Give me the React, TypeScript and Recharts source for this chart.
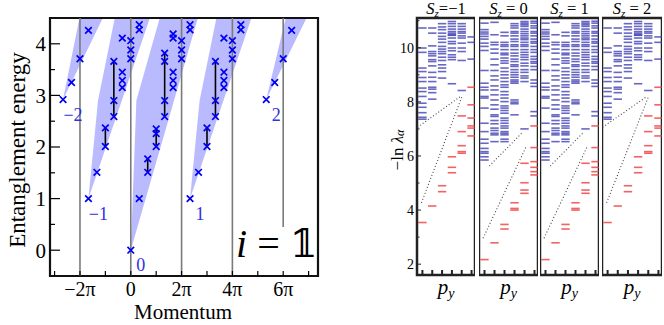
import React from "react";
import {
  ComposedChart,
  XAxis,
  YAxis,
  Area,
  Scatter,
  ReferenceLine,
  ReferenceArea,
} from "recharts";

const SERIF = '"Liberation Serif", "DejaVu Serif", serif';
const t = 1 / 3;

// ---------- left panel: entanglement energy vs momentum (momentum in units of pi) ----------
const momentumTicks = [-3, -2, -1, 0, 1, 2, 3, 4, 5, 6, 7];
const momentumLabels: Record<number, string> = { "-2": "−2π", 0: "0", 2: "2π", 4: "4π", 6: "6π" };
const energyTicks = [0, 0.5, 1, 1.5, 2, 2.5, 3, 3.5, 4];
const sectorLines = [-2, 0, 2, 4];

const levelsQm2 = [[-8 * t, 2.92], [-7 * t, 3.25], [-2, 3.71], [-5 * t, 4.26]];
const levelsQm1 = [
  [-5 * t, 1.0], [-4 * t, 1.51], [-1, 2.01], [-1, 2.37],
  [-2 * t, 2.59], [-2 * t, 2.9], [-2 * t, 3.66],
  [-t, 3.15], [-t, 3.29], [-t, 3.45], [-t, 4.11],
  [0, 3.71], [0, 3.88], [0, 4.06], [t, 4.27], [t, 4.37],
];
const levelsQ0 = [
  [0, 0], [t, 1.0], [2 * t, 1.51], [2 * t, 1.77],
  [1, 2.01], [1, 2.26], [1, 2.35],
  [4 * t, 2.59], [4 * t, 2.9], [4 * t, 3.66], [4 * t, 3.82],
  [5 * t, 3.15], [5 * t, 3.29], [5 * t, 3.45], [5 * t, 4.11], [5 * t, 4.19],
  [2, 3.71], [2, 3.88], [2, 4.06], [7 * t, 4.27], [7 * t, 4.37],
];
const levelsQ1 = [
  [7 * t, 1.0], [8 * t, 1.51], [3, 2.01], [3, 2.37],
  [10 * t, 2.59], [10 * t, 2.9], [10 * t, 3.66],
  [11 * t, 3.15], [11 * t, 3.29], [11 * t, 3.45], [11 * t, 4.11],
  [4, 3.71], [4, 3.88], [4, 4.06], [13 * t, 4.27], [13 * t, 4.37],
];
const levelsQ2 = [[16 * t, 2.92], [17 * t, 3.25], [6, 3.71], [19 * t, 4.26]];

// vertical bars joining levels [momentum, low, high]
const levelBars = [
  [-1, 2.01, 2.37], [-2 * t, 2.59, 3.66],
  [2 * t, 1.51, 1.77], [1, 2.01, 2.35], [4 * t, 2.59, 3.82],
  [3, 2.01, 2.37], [10 * t, 2.59, 3.66],
];

const charges = [
  { x: -8 * t, y: 2.92, q: "−2" },
  { x: -5 * t, y: 1.0, q: "−1" },
  { x: 0, y: 0, q: "0" },
  { x: 7 * t, y: 1.0, q: "1" },
  { x: 16 * t, y: 2.92, q: "2" },
];

// shaded cones, polygon vertices
const coneQm2 = [[-8 * t, 2.92], [-2.02, 4.5], [-1.1, 4.5]];
const coneQm1 = [[-5 * t, 1.0], [-1.29, 2.9], [-0.63, 4.5], [0.75, 4.5]];
const coneQ0 = [[0, 0], [0.22, 2.9], [1.14, 4.5], [2.64, 4.5]];
const coneQ1 = [[7 * t, 1.0], [2.71, 2.9], [3.37, 4.5], [4.75, 4.5]];
const coneQ2 = [[16 * t, 2.92], [6.1, 4.5], [6.92, 4.5]];

// ---------- right panels: -ln lambda vs p_y ----------
const columns = [0, 1, 2, 3, 4, 5];
// S_z = -1 and S_z = 2
const blueOdd = [
  [10.73, 9.99, 9.83, 9.25, 9.12, 8.9, 8.75, 8.51, 8.38, 8.2, 7.95, 7.8, 7.6, 7.43, 7.36],
  [10.73, 10.54, 10.07, 9.86, 9.78, 9.7, 9.56, 9.49, 9.33, 9.09, 8.91, 8.75, 8.54, 8.47, 8.34, 8.1],
  [10.89, 10.77, 10.67, 10.54, 10.42, 10.32, 10.2, 10.05, 9.95, 9.86, 9.78, 9.65, 9.53, 9.37, 9.25, 9.12, 8.88],
  [10.97, 10.89, 10.79, 10.69, 10.6, 10.54, 10.48, 10.46, 10.36, 10.23, 10.15, 9.99, 9.89, 9.74, 9.65, 9.56, 8.67],
  [10.89, 10.79, 10.69, 10.6, 10.54, 10.44, 10.36, 10.17, 9.99, 9.86, 9.53, 8.42],
  [10.4, 10.2, 9.58],
];
const redOdd = [
  [3.54],
  [4.15],
  [4.68, 4.9],
  [5.38, 5.58, 5.97],
  [6.1, 6.16, 6.38, 6.9, 7.48],
  [6.74, 7.03, 7.11, 7.4, 7.89, 8.54],
];
const guidesOdd = [
  [[-0.5, 7.06], [3.87, 8.2]],
  [[-0.1, 4.27], [4.03, 8.2]],
];
// S_z = 0 and S_z = 1
const blueEven = [
  [10.91, 10.67, 10.58, 10.51, 10.42, 10.32, 10.17, 10.05, 9.9, 9.16, 8.69, 8.54, 8.44, 8.2, 8.14, 7.77, 7.21, 6.9, 6.62, 6.47, 6.28, 6.16, 6.1, 5.97, 5.85],
  [10.94, 10.48, 10.2, 10.11, 9.95, 9.8, 9.58, 9.37, 9.16, 8.96, 8.81, 8.59, 8.44, 8.26, 8.07, 7.89, 7.73, 7.52, 7.46, 7.31, 7.19, 7.03, 6.94, 6.84, 6.78, 6.53],
  [10.57, 10.44, 10.2, 10.11, 10.05, 9.93, 9.8, 9.74, 9.62, 9.52, 9.43, 9.25, 9.12, 9.0, 8.88, 8.75, 8.63, 8.54, 8.38, 8.26, 8.14, 8.01, 7.85, 7.77, 7.68, 7.58, 7.4, 7.31, 7.21, 7.11, 7.03, 6.9, 6.84, 6.78, 6.62, 6.53],
  [10.89, 10.81, 10.73, 10.6, 10.54, 10.44, 10.32, 10.23, 10.11, 10.05, 9.93, 9.8, 9.7, 9.58, 9.49, 9.37, 9.31, 9.19, 9.09, 9.0, 8.91, 8.81, 8.75, 8.69, 8.07, 7.99, 7.93, 7.52],
  [10.97, 10.91, 10.85, 10.79, 10.69, 10.6, 10.52, 10.44, 10.36, 10.3, 10.2, 10.11, 10.05, 9.93, 9.83, 9.74, 9.65, 9.56, 9.43, 9.33, 9.19, 9.09, 8.96, 8.88, 8.75, 7.0],
  [10.98, 10.91, 10.81, 10.73, 10.6, 10.54, 10.44, 10.32, 10.23, 10.17, 10.05, 9.93, 9.83, 9.68, 9.58, 9.49, 9.43, 9.31, 9.19, 8.81, 8.69, 8.57, 7.64, 7.48],
];
const redEven = [
  [2.17],
  [2.79],
  [3.3, 3.47],
  [4.0, 4.06, 4.27],
  [4.62, 4.74, 5.01, 5.73],
  [5.3, 5.42, 5.58, 5.79, 6.31, 7.11],
];
const guidesEven = [
  [[-0.15, 2.96], [4.15, 6.33]],
  [[0.48, 5.63], [3.72, 6.84]],
];

const panels = [
  { sz: "−1", left: 380, axisWidth: 37, plotWidth: 58, blue: blueOdd, red: redOdd, guides: guidesOdd },
  { sz: "0", left: 479, axisWidth: 0, plotWidth: 59, blue: blueEven, red: redEven, guides: guidesEven },
  { sz: "1", left: 540, axisWidth: 0, plotWidth: 59, blue: blueEven, red: redEven, guides: guidesEven },
  { sz: "2", left: 602, axisWidth: 0, plotWidth: 60, blue: blueOdd, red: redOdd, guides: guidesOdd },
];

// ---------- helpers ----------
const toXY = (pts: number[][]) => pts.map(([x, y]) => ({ x, y }));

// convex polygon -> range area rows [low, high]
function coneRows(poly: number[][]) {
  const xs = Array.from(new Set(poly.map((p) => p[0]))).sort((a, b) => a - b);
  return xs.map((x) => {
    const ys: number[] = [];
    for (let i = 0; i < poly.length; i++) {
      const [x1, y1] = poly[i];
      const [x2, y2] = poly[(i + 1) % poly.length];
      if (x1 === x2) {
        if (Math.abs(x - x1) < 1e-9) ys.push(y1, y2);
      } else if (x >= Math.min(x1, x2) - 1e-9 && x <= Math.max(x1, x2) + 1e-9) {
        ys.push(y1 + ((x - x1) * (y2 - y1)) / (x2 - x1));
      }
    }
    return { x, range: [Math.min(...ys), Math.max(...ys)] };
  });
}

const columnPoints = (cols: number[][]) =>
  cols.flatMap((vals, k) => vals.map((v) => ({ x: columns[k], y: v })));

const Cross = (props: any) => {
  const { cx, cy } = props;
  const s = 3.3;
  return (
    <path
      d={`M${cx - s},${cy - s}L${cx + s},${cy + s}M${cx - s},${cy + s}L${cx + s},${cy - s}`}
      stroke="#0000f0"
      strokeWidth={1.7}
      fill="none"
    />
  );
};

const ChargeLabel = (props: any) => {
  const { cx, cy, payload } = props;
  return (
    <text x={cx + 10} y={cy + 21} textAnchor="middle" fill="#3030e0" fontSize={18} fontFamily={SERIF}>
      {payload.q}
    </text>
  );
};

const EnergyTick = (props: any) => {
  const { x, y, payload } = props;
  const v = payload.value;
  const major = Number.isInteger(v);
  return (
    <g>
      <line x1={x} x2={x + (major ? 10 : 5)} y1={y} y2={y} stroke="#000" strokeWidth={1.2} />
      {major && (
        <text x={x - 4} y={y} dy="0.35em" textAnchor="end" fontSize={21} fontFamily={SERIF} fill="#000">
          {v}
        </text>
      )}
    </g>
  );
};

const MomentumTick = (props: any) => {
  const { x, y, payload } = props;
  const lab = momentumLabels[payload.value];
  return (
    <g>
      <line x1={x} x2={x} y1={y} y2={y - 5} stroke="#000" strokeWidth={1.2} />
      {lab && (
        <text x={x} y={y + 20} textAnchor="middle" fontSize={20} fontFamily={SERIF} fill="#000">
          {lab}
        </text>
      )}
    </g>
  );
};

const ColumnTick = (props: any) => {
  const { x, y } = props;
  return <line x1={x} x2={x} y1={y} y2={y - 5} stroke="#222" strokeWidth={2} />;
};

const LevelTick = (props: any) => {
  const { x, y, payload } = props;
  const v = payload.value;
  const major = v % 2 === 0;
  return (
    <g>
      <line x1={x} x2={x + (major ? 4 : 2.5)} y1={y} y2={y} stroke="#222" strokeWidth={1} />
      {major && (
        <text x={x - 3} y={y} dy="0.35em" textAnchor="end" fontSize={14} fontFamily={SERIF} fill="#000">
          {v}
        </text>
      )}
    </g>
  );
};

function EntanglementPanel() {
  const cones = [coneQm2, coneQm1, coneQ0, coneQ1, coneQ2];
  const sectors = [levelsQm2, levelsQm1, levelsQ0, levelsQ1, levelsQ2];
  return (
    <ComposedChart width={330} height={325} margin={{ top: 18, right: 12, bottom: 0, left: 0 }}>
      <XAxis
        type="number"
        dataKey="x"
        domain={[-3.18, 7.37]}
        allowDataOverflow
        ticks={momentumTicks}
        interval={0}
        tickSize={0}
        tickMargin={0}
        tickLine={false}
        axisLine={false}
        tick={<MomentumTick />}
        height={49}
        label={() => (
          <g fontFamily={SERIF}>
            <text x={183} y={319} textAnchor="middle" fontSize={21} fill="#000">
              Momentum
            </text>
            <text x={236} y={257} fontSize={40} fill="#000">
              <tspan fontStyle="italic">i</tspan> = 𝟙
            </text>
          </g>
        )}
      />
      <YAxis
        type="number"
        dataKey="y"
        domain={[-0.5, 4.5]}
        allowDataOverflow
        ticks={energyTicks}
        interval={0}
        tickSize={0}
        tickMargin={0}
        tickLine={false}
        axisLine={false}
        tick={<EnergyTick />}
        width={50}
        label={() => (
          <text
            transform="translate(17,150) rotate(-90)"
            textAnchor="middle"
            dominantBaseline="central"
            fontSize={23}
            fontFamily={SERIF}
            fill="#000"
          >
            Entanglement energy
          </text>
        )}
      />
      {cones.map((c, i) => (
        <Area
          key={`cone${i}`}
          data={coneRows(c)}
          dataKey="range"
          type="linear"
          stroke="none"
          fill="#0000ff"
          fillOpacity={0.27}
          isAnimationActive={false}
        />
      ))}
      {sectorLines.map((k) => (
        <ReferenceLine key={`s${k}`} x={k} stroke="#7a7a7a" strokeWidth={1.6} />
      ))}
      <ReferenceLine
        segment={[{ x: 6, y: 0.45 }, { x: 6, y: 4.5 }]}
        stroke="#7a7a7a"
        strokeWidth={1.6}
      />
      {levelBars.map(([k, lo, hi], i) => (
        <ReferenceLine
          key={`b${i}`}
          segment={[{ x: k, y: lo }, { x: k, y: hi }]}
          stroke="#000"
          strokeWidth={1.6}
        />
      ))}
      {sectors.map((s, i) => (
        <Scatter key={`q${i}`} data={toXY(s)} shape={<Cross />} isAnimationActive={false} />
      ))}
      <Scatter data={charges} shape={<ChargeLabel />} isAnimationActive={false} />
      <ReferenceArea
        x1={-3.18}
        x2={7.37}
        y1={-0.5}
        y2={4.5}
        fill="none"
        stroke="#111"
        strokeWidth={2.2}
      />
    </ComposedChart>
  );
}

function SpectrumPanel({ p }: { p: (typeof panels)[number] }) {
  const blue = columnPoints(p.blue);
  const red = columnPoints(p.red);
  const cx = p.axisWidth + p.plotWidth / 2;
  return (
    <div style={{ position: "absolute", left: p.left, top: 0 }}>
      <ComposedChart
        width={p.axisWidth + p.plotWidth}
        height={325}
        margin={{ top: 18, right: 0, bottom: 0, left: 0 }}
      >
        <XAxis
          type="number"
          dataKey="x"
          domain={[-0.55, 5.35]}
          allowDataOverflow
          ticks={columns}
          interval={0}
          tickSize={0}
          tickMargin={0}
          tickLine={false}
          axisLine={false}
          tick={<ColumnTick />}
          height={50}
          label={() => (
            <g fontFamily={SERIF} fill="#000">
              <text x={cx} y={14} textAnchor="middle" fontSize={16.5}>
                <tspan fontStyle="italic">S</tspan>
                <tspan fontStyle="italic" fontSize={11} dy={3}>z</tspan>
                <tspan dy={-3}>{p.sz === "−1" ? "=−1" : " = " + p.sz}</tspan>
              </text>
              <text x={cx} y={294} textAnchor="middle" fontSize={21}>
                <tspan fontStyle="italic">p</tspan>
                <tspan fontStyle="italic" fontSize={14} dy={4}>y</tspan>
              </text>
            </g>
          )}
        />
        <YAxis
          type="number"
          dataKey="y"
          domain={[1.6, 11.1]}
          allowDataOverflow
          hide={p.axisWidth === 0}
          width={p.axisWidth}
          ticks={[2, 3, 4, 5, 6, 7, 8, 9, 10, 11]}
          interval={0}
          tickSize={0}
          tickMargin={0}
          tickLine={false}
          axisLine={false}
          tick={<LevelTick />}
          label={() => (
            <text
              transform="translate(17,150) rotate(-90)"
              textAnchor="middle"
              dominantBaseline="central"
              fontSize={17}
              fontFamily={SERIF}
              fill="#000"
            >
              −ln <tspan fontStyle="italic">λ</tspan>
              <tspan fontStyle="italic" fontSize={12} dy={3}>α</tspan>
            </text>
          )}
        />
        {p.guides.map((g, i) => (
          <ReferenceLine
            key={`g${i}`}
            segment={[{ x: g[0][0], y: g[0][1] }, { x: g[1][0], y: g[1][1] }]}
            stroke="#444"
            strokeWidth={1.1}
            strokeDasharray="1 2.2"
          />
        ))}
        <Scatter
          data={blue}
          isAnimationActive={false}
          shape={(s: any) => (
            <rect x={s.cx - 4.2} y={s.cy - 0.8} width={8.4} height={1.6} fill="#3535b0" fillOpacity={0.75} />
          )}
        />
        <Scatter
          data={red}
          isAnimationActive={false}
          shape={(s: any) => (
            <rect x={s.cx - 4.2} y={s.cy - 0.8} width={8.4} height={1.6} fill="#ee3030" fillOpacity={0.75} />
          )}
        />
        <ReferenceArea
          x1={-0.55}
          x2={5.35}
          y1={1.6}
          y2={11.1}
          fill="none"
          stroke="#222"
          strokeWidth={2.5}
        />
      </ComposedChart>
    </div>
  );
}

export default function App() {
  return (
    <div style={{ position: "absolute", left: 0, top: 0, width: 664, height: 325, background: "#fff" }}>
      <div style={{ position: "absolute", left: 0, top: 0 }}>
        <EntanglementPanel />
      </div>
      {panels.map((p) => (
        <SpectrumPanel key={p.sz} p={p} />
      ))}
    </div>
  );
}
